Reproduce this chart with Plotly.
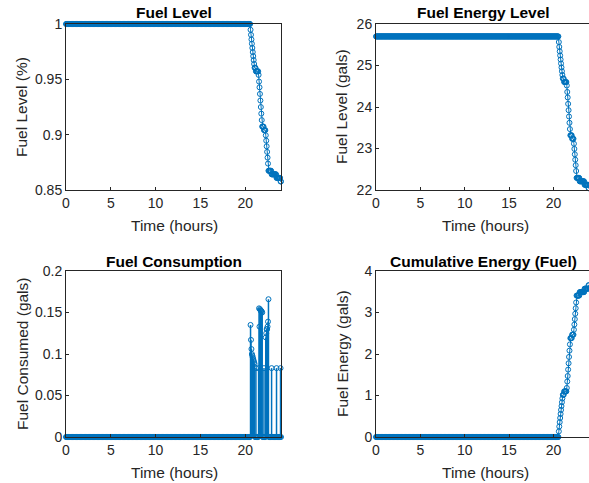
import numpy as np
import plotly.graph_objects as go

# ---- data -------------------------------------------------------------
TANK_GALS = 25.7          # full tank
STEP_HOURS = 0.05         # simulation step

# steps where the generator burns fuel (hour, gallons burned in that step)
burn_hours = [20.60, 20.65, 20.70, 20.75, 20.80, 20.85, 20.90, 20.95, 21.00, 21.05,
              21.20, 21.50,
              21.55, 21.60, 21.65, 21.70, 21.75, 21.80, 21.85, 21.90,
              22.10,
              22.30, 22.35, 22.40, 22.45, 22.50, 22.55, 22.60,
              22.95, 23.50, 23.95]
burn_gals = [0.135, 0.117, 0.106, 0.100, 0.098, 0.096, 0.094, 0.092, 0.090, 0.088,
             0.083, 0.083,
             0.155, 0.133, 0.154, 0.153, 0.152, 0.152, 0.151, 0.150,
             0.083,
             0.120, 0.125, 0.130, 0.130, 0.133, 0.139, 0.166,
             0.083, 0.083, 0.083]

x_ticks = [0, 5, 10, 15, 20]

time_hours = np.round(np.arange(0, 24 + 1e-9, STEP_HOURS), 2)
consumed = np.zeros_like(time_hours)
for h, g in zip(burn_hours, burn_gals):
    consumed[int(round(h / STEP_HOURS))] = g
cumulative = np.cumsum(consumed)
level_gals = TANK_GALS - cumulative
level_frac = level_gals / TANK_GALS

# ---- styling -----------------------------------------------------------
BLUE = "#0072BD"
AX = "#262626"
W, H = 589, 483
FONT = "Liberation Sans, Arial, Helvetica, sans-serif"

def px_x(p):
    return p / W

def px_y(p):
    return 1 - p / H

left_dom = [px_x(66), px_x(281)]
right_dom = [px_x(376), 1.0]
top_dom = [px_y(190), px_y(24)]
bot_dom = [px_y(437), px_y(271)]

marker = dict(symbol="circle-open", size=5, color=BLUE, line=dict(width=1, color=BLUE))

fig = go.Figure()

def line_trace(y, xa, ya):
    fig.add_trace(go.Scatter(x=time_hours, y=y, mode="lines+markers", xaxis=xa, yaxis=ya,
                             line=dict(color=BLUE, width=1), marker=marker,
                             cliponaxis=False, showlegend=False))

line_trace(level_frac, "x", "y")
line_trace(level_gals, "x2", "y2")
line_trace(cumulative, "x4", "y4")

# stem plot: vertical stems from zero plus a marker at every sample
stem_x, stem_y = [], []
for t, v in zip(time_hours, consumed):
    if v > 0:
        stem_x += [t, t, None]
        stem_y += [0, v, None]
fig.add_trace(go.Scatter(x=stem_x, y=stem_y, mode="lines", xaxis="x3", yaxis="y3",
                         line=dict(color=BLUE, width=1.5), showlegend=False))
fig.add_trace(go.Scatter(x=time_hours, y=consumed, mode="markers", xaxis="x3", yaxis="y3",
                         marker=marker, cliponaxis=False, showlegend=False))

tickfont = dict(family=FONT, size=14, color=AX)

def xaxis(dom, anchor):
    return dict(domain=dom, anchor=anchor, range=[0, 24], tickvals=x_ticks,
                ticks="inside", ticklen=3, tickcolor=AX, showline=True, linecolor=AX,
                linewidth=1, mirror=True, showgrid=False, zeroline=False, tickfont=tickfont)

def yaxis(dom, anchor, rng, vals, labels, mirror):
    return dict(domain=dom, anchor=anchor, range=rng, tickvals=vals, ticktext=labels,
                ticks="inside", ticklen=3, tickcolor=AX, showline=True, linecolor=AX,
                linewidth=1, mirror=mirror, showgrid=False, zeroline=False, tickfont=tickfont)

fig.update_layout(
    width=W, height=H, autosize=False,
    margin=dict(l=0, r=0, t=0, b=0, autoexpand=False),
    paper_bgcolor="white", plot_bgcolor="white",
    xaxis=xaxis(left_dom, "y"),
    yaxis=yaxis(top_dom, "x", [0.85, 1.0], [0.85, 0.9, 0.95, 1.0], ["0.85", "0.9", "0.95", "1"], True),
    xaxis2=xaxis(right_dom, "y2"),
    yaxis2=yaxis(top_dom, "x2", [22, 26], [22, 23, 24, 25, 26], ["22", "23", "24", "25", "26"], False),
    xaxis3=xaxis(left_dom, "y3"),
    yaxis3=yaxis(bot_dom, "x3", [0, 0.2], [0, 0.05, 0.1, 0.15, 0.2], ["0", "0.05", "0.1", "0.15", "0.2"], True),
    xaxis4=xaxis(right_dom, "y4"),
    yaxis4=yaxis(bot_dom, "x4", [0, 4], [0, 1, 2, 3, 4], ["0", "1", "2", "3", "4"], False),
)

def note(text, x, y, size=15.5, bold=False, angle=0, color=AX):
    fig.add_annotation(text=f"<b>{text}</b>" if bold else text, x=px_x(x), y=px_y(y),
                       xref="paper", yref="paper", showarrow=False, textangle=angle,
                       xanchor="center", yanchor="middle",
                       font=dict(family=FONT, size=size, color=color))

# titles
note("Fuel Level", 173.5, 13, bold=True, color="black")
note("Fuel Energy Level", 483, 13, bold=True, color="black")
note("Fuel Consumption", 173.5, 261, bold=True, color="black")
note("Cumulative Energy (Fuel)", 483, 261, bold=True, color="black")
# x labels
for cx, cy in [(174, 226), (485, 226), (174, 472), (485, 472)]:
    note("Time (hours)", cx, cy)
# y labels
note("Fuel Level (%)", 22, 107, angle=-90)
note("Fuel Level (gals)", 342, 107, angle=-90)
note("Fuel Consumed (gals)", 22, 354, angle=-90)
note("Fuel Energy (gals)", 342, 354, angle=-90)

fig.write_html("out.html")
